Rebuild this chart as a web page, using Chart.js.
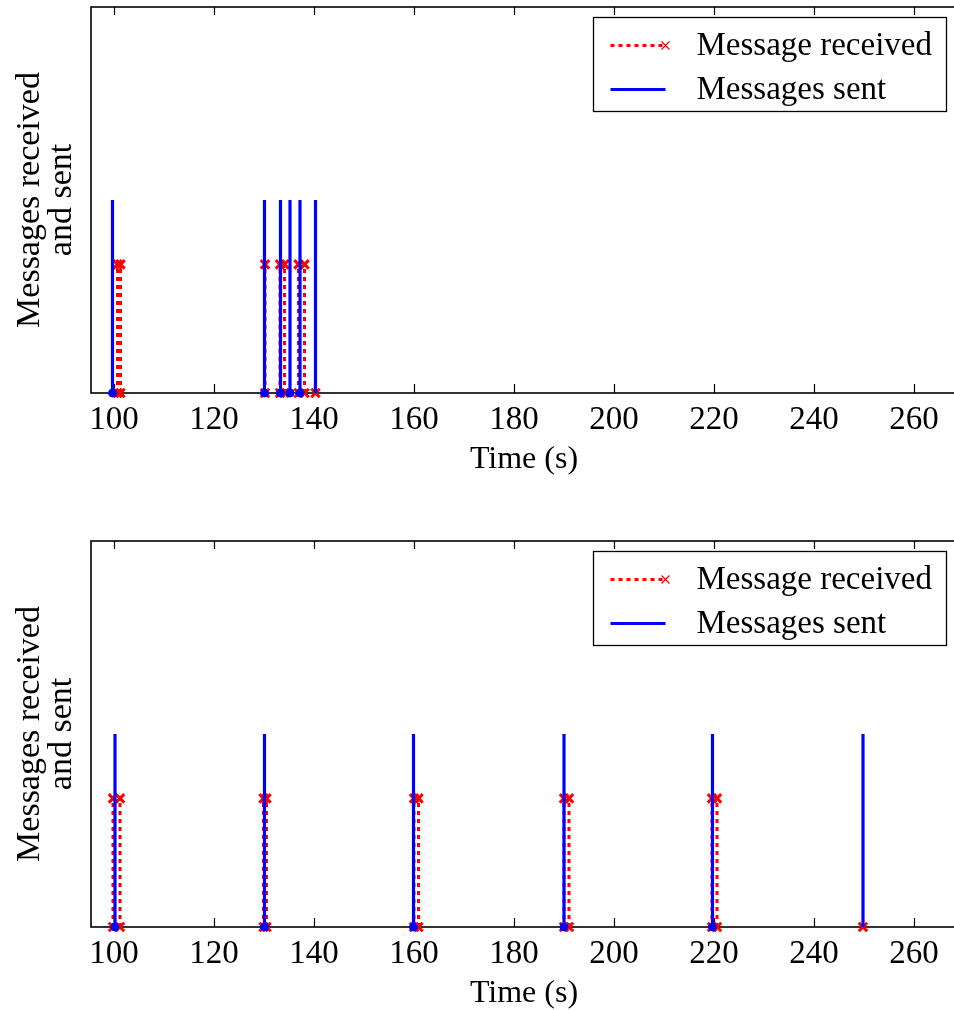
<!DOCTYPE html>
<html>
<head>
<meta charset="utf-8">
<script src="https://cdn.jsdelivr.net/npm/chart.js@4.4.1/dist/chart.umd.min.js"></script>
<style>
  html, body { margin: 0; padding: 0; background: #fff; overflow: hidden; }
  canvas { display: block; }
</style>
</head>
<body>
<canvas id="runA" width="960" height="534"></canvas>
<canvas id="runB" width="960" height="534"></canvas>
<script>
// x axis
const xTicks = [100, 120, 140, 160, 180, 200, 220, 240, 260];
const xMin = 95.4;
const xMax = 268.6;

// stem heights
const sentLevel = 1.5;
const recvLevel = 1;

// first run: event times in seconds
const sentA = [99.7, 130.1, 133.3, 135.2, 137.2, 140.3];
const recvA = [100.7, 101.3, 130.2, 133.2, 134.1, 136.9, 138.1];
const lostA = [140.3];

// second run
const sentB = [100.2, 130.1, 159.9, 190.0, 219.7, 249.8];
const recvB = [99.8, 101.2, 129.9, 130.5, 160.0, 160.9, 190.0, 191.0, 219.6, 220.6];
const lostB = [249.8];

const FONT = "'Liberation Serif', 'Times New Roman', serif";
const RED = '#ff0000';
const BLUE = '#0000ff';

function stems(times, level) {
  const pts = [];
  times.forEach(t => {
    pts.push({x: t, y: 0}, {x: t, y: level}, {x: t, y: null});
  });
  return pts;
}

// box with inward ticks on top and bottom, drawn under the data
const axesBox = {
  id: 'axesBox',
  beforeDatasetsDraw(chart) {
    const {ctx, chartArea: a, scales: {x}} = chart;
    const l = Math.round(a.left), t = Math.round(a.top);
    const r = Math.round(a.right), b = Math.round(a.bottom);
    ctx.save();
    ctx.strokeStyle = '#000';
    ctx.lineWidth = 1.6;
    ctx.strokeRect(l, t, r - l, b - t);
    ctx.lineWidth = 1.2;
    ctx.beginPath();
    x.ticks.forEach(tk => {
      const px = Math.round(x.getPixelForValue(tk.value)) + 0.5;
      ctx.moveTo(px, b); ctx.lineTo(px, b - 9);
      ctx.moveTo(px, t); ctx.lineTo(px, t + 8);
    });
    ctx.stroke();
    ctx.restore();
  }
};

// boxed legend in the upper right corner of the plot
const boxLegend = {
  id: 'boxLegend',
  afterDraw(chart) {
    const {ctx, chartArea: a} = chart;
    const w = 353, h = 94;
    const left = Math.round(a.right - 11 - w) + 0.5;
    const top = Math.round(a.top + 10) + 0.5;
    ctx.save();
    ctx.fillStyle = '#fff';
    ctx.fillRect(left, top, w, h);
    ctx.strokeStyle = '#000';
    ctx.lineWidth = 1.3;
    ctx.strokeRect(left, top, w, h);
    chart.data.datasets.forEach((ds, i) => {
      const y = top + 28 + i * 44;
      const x0 = left + 17, x1 = left + 72;
      ctx.strokeStyle = ds.borderColor;
      ctx.lineWidth = ds.borderWidth;
      ctx.setLineDash(ds.borderDash || []);
      ctx.beginPath();
      ctx.moveTo(x0, y); ctx.lineTo(x1, y);
      ctx.stroke();
      ctx.setLineDash([]);
      if (ds.pointStyle === 'crossRot') {
        ctx.lineWidth = 1.2;
        ctx.beginPath();
        ctx.moveTo(x1 - 4, y - 4); ctx.lineTo(x1 + 4, y + 4);
        ctx.moveTo(x1 - 4, y + 4); ctx.lineTo(x1 + 4, y - 4);
        ctx.stroke();
      }
      ctx.fillStyle = '#000';
      ctx.font = '33px ' + FONT;
      ctx.textBaseline = 'middle';
      ctx.fillText(ds.label, left + 103, y + 1);
    });
    ctx.restore();
  }
};

function makeChart(id, sent, recv, lost) {
  const recvData = stems(recv, recvLevel);
  lost.forEach(t => recvData.push({x: t, y: 0}, {x: t, y: null}));

  return new Chart(document.getElementById(id), {
    type: 'line',
    data: {
      datasets: [
        {
          label: 'Message received',
          data: recvData,
          borderColor: RED,
          borderWidth: 3,
          borderDash: [4, 4],
          pointStyle: 'crossRot',
          pointRadius: ctx => (ctx.raw && ctx.raw.y !== null ? 6 : 0),
          pointBorderColor: RED,
          pointBorderWidth: 3,
          spanGaps: false,
          clip: 10,
          order: 1
        },
        {
          label: 'Messages sent',
          data: stems(sent, sentLevel),
          borderColor: BLUE,
          borderWidth: 3.2,
          pointStyle: 'circle',
          pointRadius: ctx => (ctx.raw && ctx.raw.y === 0 && !lost.includes(ctx.raw.x) ? 4 : 0),
          pointBackgroundColor: BLUE,
          pointBorderColor: BLUE,
          pointBorderWidth: 1,
          spanGaps: false,
          clip: 10,
          order: 0
        }
      ]
    },
    options: {
      responsive: false,
      animation: false,
      events: [],
      // the canvas is wider than the page, so the right side of the box is cut off
      layout: {autoPadding: false, padding: {top: 7, right: 3, left: 0, bottom: 0}},
      plugins: {legend: {display: false}, tooltip: {enabled: false}},
      scales: {
        x: {
          type: 'linear',
          min: xMin,
          max: xMax,
          grid: {display: false},
          border: {display: false},
          afterBuildTicks: s => { s.ticks = xTicks.map(v => ({value: v})); },
          afterFit: s => {
            s.height = 141;
            s.paddingLeft = 0;
            s.paddingRight = 0;
          },
          ticks: {
            color: '#000',
            font: {family: FONT, size: 33},
            padding: 0,
            maxRotation: 0,
            autoSkip: false
          },
          title: {
            display: true,
            text: 'Time (s)',
            color: '#000',
            font: {family: FONT, size: 32},
            padding: {top: 0, bottom: 55}
          }
        },
        y: {
          min: 0,
          max: 3,
          grid: {display: false},
          border: {display: false},
          ticks: {display: false},
          afterFit: s => {
            s.width = 91;
            s.paddingTop = 0;
            s.paddingBottom = 0;
          },
          title: {
            display: true,
            text: ['Messages received', 'and sent'],
            color: '#000',
            font: {family: FONT, size: 34, lineHeight: '32px'},
            padding: {top: 14, bottom: 0}
          }
        }
      }
    },
    plugins: [axesBox, boxLegend]
  });
}

makeChart('runA', sentA, recvA, lostA);
makeChart('runB', sentB, recvB, lostB);
</script>
</body>
</html>
